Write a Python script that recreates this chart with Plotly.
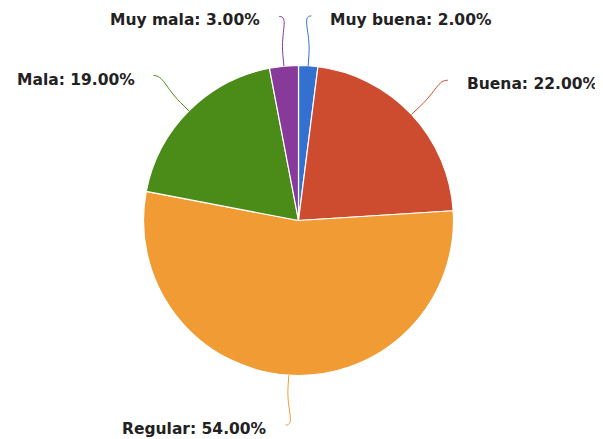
import math
import plotly.graph_objects as go

labels = ["Muy buena", "Buena", "Regular", "Mala", "Muy mala"]
values = [2.0, 22.0, 54.0, 19.0, 3.0]
colors = ["#3470cf", "#cd4b2f", "#f19b35", "#4b8c18", "#883a9a"]

# page body has an 8px margin: the figure is drawn from (8, 8)
OFF = 8
W, H = 603 - OFF, 439 - OFF
cx, cy, r = 298.5 - OFF, 220.5 - OFF, 155.0
R_end = 205.0

fig = go.Figure()
fig.add_trace(go.Pie(
    labels=labels, values=values, sort=False, direction="clockwise", rotation=0,
    marker=dict(colors=colors, line=dict(color="white", width=1.2)),
    textinfo="none", showlegend=False,
    domain=dict(x=[(cx - r) / W, (cx + r) / W], y=[1 - (cy + r) / H, 1 - (cy - r) / H]),
))

shapes, annotations = [], []
total = sum(values)
cum = 0.0
for lab, v, col in zip(labels, values, colors):
    mid_frac = (cum + v / 2) / total
    cum += v
    a = 2 * math.pi * mid_frac
    dx, dy = math.sin(a), -math.cos(a)
    side = 1 if dx >= 0 else -1
    ex, ey = cx + r * dx, cy + r * dy
    mx, my = cx + (r + 12) * dx, cy + (r + 12) * dy
    tx, ty = cx + R_end * dx, cy + R_end * dy
    c1x, c1y = mx + 22 * dx, my + 22 * dy
    c2x, c2y = tx - side * 10, ty
    path = f"M {ex:.1f},{ey:.1f} L {mx:.1f},{my:.1f} C {c1x:.1f},{c1y:.1f} {c2x:.1f},{c2y:.1f} {tx:.1f},{ty:.1f}"
    shapes.append(dict(type="path", path=path, xref="x", yref="y",
                       line=dict(color=col, width=1)))
    annotations.append(dict(
        x=tx + side * 17, y=ty + 4, xref="x", yref="y",
        text=f"<b>{lab}: {v:.2f}%</b>", showarrow=False,
        xanchor="left" if side > 0 else "right", yanchor="middle",
        font=dict(family="DejaVu Sans", size=15.5, color="#222222"),
    ))

fig.update_layout(
    width=W, height=H, margin=dict(l=0, r=0, t=0, b=0),
    paper_bgcolor="white", plot_bgcolor="rgba(0,0,0,0)",
    xaxis=dict(range=[0, W], visible=False, domain=[0, 1], fixedrange=True),
    yaxis=dict(range=[H, 0], visible=False, domain=[0, 1], fixedrange=True),
    shapes=shapes, annotations=annotations,
)
fig.write_html("out.html")
